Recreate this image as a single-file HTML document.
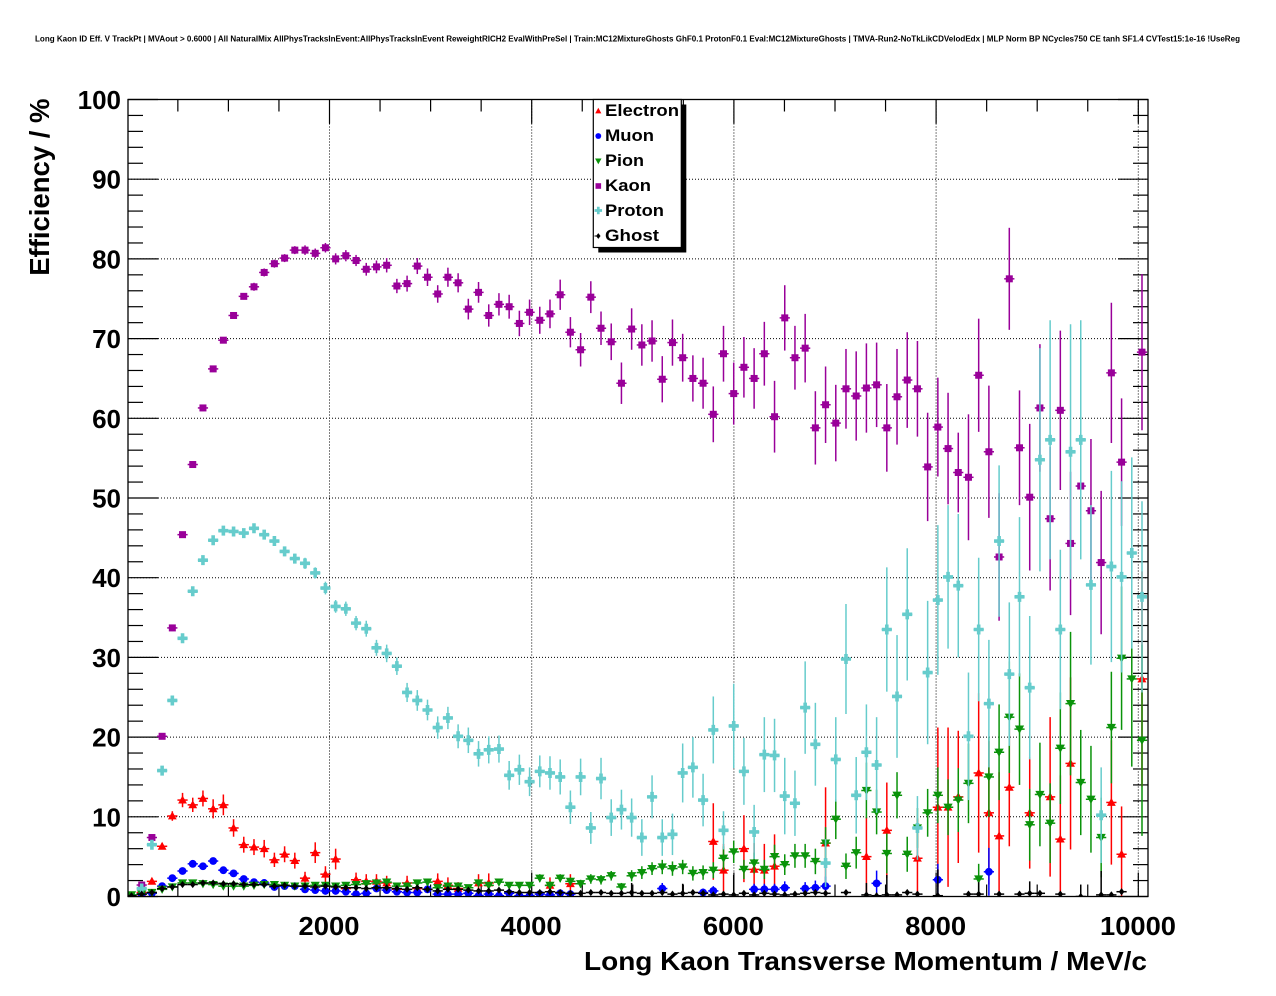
<!DOCTYPE html>
<html><head><meta charset="utf-8">
<style>
html,body{margin:0;padding:0;background:#fff;}
svg{display:block;}
text{font-family:"Liberation Sans",Arial,sans-serif;font-weight:bold;fill:#000;}
</style></head><body>
<svg id="s" width="1276" height="996" viewBox="0 0 1276 996" xmlns="http://www.w3.org/2000/svg">
<defs><clipPath id="c"><rect x="128" y="99.5" width="1020" height="797"/></clipPath></defs>
<rect width="1276" height="996" fill="#fff"/>
<text x="35" y="41.5" font-size="8" textLength="1205" lengthAdjust="spacingAndGlyphs">Long Kaon ID Eff. V TrackPt | MVAout &gt; 0.6000 | All NaturalMix AllPhysTracksInEvent:AllPhysTracksInEvent ReweightRICH2 EvalWithPreSel | Train:MC12MixtureGhosts GhF0.1 ProtonF0.1 Eval:MC12MixtureGhosts | TMVA-Run2-NoTkLikCDVelodEdx | MLP Norm BP NCycles750 CE tanh SF1.4 CVTest15:1e-16 !UseReg</text>
<g id="grid" stroke="#000" stroke-width="1" stroke-dasharray="1 2" fill="none"></g>
<g id="ticks" stroke="#000" stroke-width="1.2"></g>
<g id="data" clip-path="url(#c)"></g>
<rect x="128" y="99.5" width="1020" height="797" fill="none" stroke="#000" stroke-width="1.3"/>
<g font-size="26" text-anchor="end">
<text x="121" y="906">0</text>
<text x="121" y="826.3">10</text>
<text x="121" y="746.6">20</text>
<text x="121" y="666.9">30</text>
<text x="121" y="587.2">40</text>
<text x="121" y="507.5">50</text>
<text x="121" y="427.8">60</text>
<text x="121" y="348.1">70</text>
<text x="121" y="268.4">80</text>
<text x="121" y="188.7">90</text>
<text x="121" y="109">100</text>
</g>
<g font-size="26">
<text x="298.5" y="935" textLength="61" lengthAdjust="spacingAndGlyphs">2000</text>
<text x="500.7" y="935" textLength="61" lengthAdjust="spacingAndGlyphs">4000</text>
<text x="702.9" y="935" textLength="61" lengthAdjust="spacingAndGlyphs">6000</text>
<text x="905.1" y="935" textLength="61" lengthAdjust="spacingAndGlyphs">8000</text>
<text x="1100" y="935" textLength="76" lengthAdjust="spacingAndGlyphs">10000</text>
</g>
<text x="584" y="970" font-size="26" textLength="563" lengthAdjust="spacingAndGlyphs">Long Kaon Transverse Momentum / MeV/c</text>
<text transform="translate(49,98.5) rotate(-90)" font-size="27.5" text-anchor="end">Efficiency / %</text>
<g id="legend">
<rect x="598.3" y="104.5" width="88" height="148" fill="#000"/>
<rect x="593.3" y="99.5" width="88" height="148" fill="#fff" stroke="#000" stroke-width="1.2"/>
<g font-size="16.5">
<text x="605" y="116" textLength="74" lengthAdjust="spacingAndGlyphs">Electron</text>
<text x="605" y="141" textLength="49" lengthAdjust="spacingAndGlyphs">Muon</text>
<text x="605" y="166" textLength="39" lengthAdjust="spacingAndGlyphs">Pion</text>
<text x="605" y="191" textLength="46" lengthAdjust="spacingAndGlyphs">Kaon</text>
<text x="605" y="216" textLength="59" lengthAdjust="spacingAndGlyphs">Proton</text>
<text x="605" y="241" textLength="54" lengthAdjust="spacingAndGlyphs">Ghost</text>
</g>
<g id="legm"></g>
</g>
</svg>
<script>
(function(){
const NS='http://www.w3.org/2000/svg';
function el(p,t,a){const e=document.createElementNS(NS,t);for(const k in a)e.setAttribute(k,a[k]);p.appendChild(e);return e;}
const X=i=>131.5+10.207*i, Y=v=>896.5-7.97*v;
const XG=v=>329.5+(v-2000)*0.1011;
const grid=document.getElementById('grid');
for(let v=10;v<=90;v+=10) el(grid,'line',{x1:128,x2:1148,y1:Y(v),y2:Y(v)});
for(let v=2000;v<=10000;v+=2000) el(grid,'line',{x1:XG(v),x2:XG(v),y1:99.5,y2:896.5});
const tk=document.getElementById('ticks');
for(let v=0;v<=100;v+=2){const L=(v%10==0)?30:15;const y=Y(v);
 el(tk,'line',{x1:128,x2:128+L,y1:y,y2:y});el(tk,'line',{x1:1148-L,x2:1148,y1:y,y2:y});}
for(let v=500;v<=10000;v+=500){const L=(v%2000==0)?24:12;const x=XG(v);
 el(tk,'line',{x1:x,x2:x,y1:896.5,y2:896.5-L});el(tk,'line',{x1:x,x2:x,y1:99.5,y2:99.5+L});}

function marker(g,shape,x,y,c,s){
 s=s||1;
 if(shape=='sq'){const h=3.5*s;el(g,'rect',{x:x-h,y:y-h,width:2*h,height:2*h,fill:c});}
 else if(shape=='ci'){el(g,'circle',{cx:x,cy:y,r:3.9*s,fill:c});}
 else if(shape=='tu'){el(g,'polygon',{points:`${x},${y-4.6*s} ${x+4.4*s},${y+3.4*s} ${x-4.4*s},${y+3.4*s}`,fill:c});}
 else if(shape=='td'){el(g,'polygon',{points:`${x},${y+4.6*s} ${x+4.6*s},${y-3.6*s} ${x-4.6*s},${y-3.6*s}`,fill:c});}
 else if(shape=='cr'){const a=5*s,t=1.8*s;el(g,'polygon',{points:`${x-t},${y-a} ${x+t},${y-a} ${x+t},${y-t} ${x+a},${y-t} ${x+a},${y+t} ${x+t},${y+t} ${x+t},${y+a} ${x-t},${y+a} ${x-t},${y+t} ${x-a},${y+t} ${x-a},${y-t} ${x-t},${y-t}`,fill:c});}
 else if(shape=='di'){el(g,'polygon',{points:`${x},${y-3.6*s} ${x+2.8*s},${y} ${x},${y+3.6*s} ${x-2.8*s},${y}`,fill:c});}
}
const dg=document.getElementById('data');
function draw(data,c,shape){
 const g=el(dg,'g',{});
 for(const d of data){const i=d[0],v=d[1],e=d[2]||0.15;const x=X(i),y=Y(v);
  const lo=Math.max(0,v-e),hi=Math.min(101,v+e);
  el(g,'line',{x1:x,x2:x,y1:Y(lo),y2:Y(hi),stroke:c,'stroke-width':1.5});
  el(g,'line',{x1:x-5.1,x2:x+5.1,y1:y,y2:y,stroke:c,'stroke-width':1.5});
  marker(g,shape,x,y,c);}
}
const E=[[1,0.5,0.2],[2,1.9,0.3],[3,6.3,0.4],[4,10.1,0.6],[5,12.1,0.9],[6,11.5,0.9],[7,12.3,1.0],[8,11.0,1.2],[9,11.5,1.3],[10,8.6,1.1],[11,6.5,1.0],[12,6.2,1.0],[13,6.0,1.1],[14,4.6,0.9],[15,5.3,1.0],[16,4.5,1.0],[17,2.3,0.8],[18,5.5,1.3],[19,2.8,1.0],[20,4.7,1.3],[21,1.0,0.6],[22,2.1,0.9],[23,1.9,0.9],[24,1.9,0.9],[25,1.7,0.9],[26,0.9,0.7],[27,1.7,0.9],[28,1.0,0.7],[30,1.9,1.0],[31,1.4,1.0],[32,1.0,0.8],[34,1.7,1.1],[35,1.7,1.2],[41,1.4,1.0],[43,1.6,1.2],[57,6.9,4.8],[58,3.3,3.3],[60,6.0,4.2],[61,3.4,3.3],[62,3.3,3.3],[63,3.8,4.0],[68,6.7,7],[72,5.0,5.0],[74,8.3,6],[77,4.8,5],[79,11.2,10],[80,11.2,10],[81,12.5,8.3],[83,15.5,10],[84,10.5,9],[85,7.6,8],[86,13.7,7.4],[88,10.5,7],[90,12.5,10],[91,7.2,8],[92,16.7,10.8],[96,11.8,7.8],[97,5.3,6],[99,27.3,13.5]];
const M=[[0,0.1,0.05],[1,0.3,0.05],[2,0.4,0.1],[3,1.3,0.1],[4,2.3,0.15],[5,3.2,0.2],[6,4.1,0.2],[7,3.8,0.2],[8,4.45,0.25],[9,3.3,0.25],[10,2.9,0.25],[11,2.2,0.25],[12,1.8,0.25],[13,1.7,0.25],[14,1.2,0.25],[15,1.3,0.25],[16,1.3,0.25],[17,0.9,0.25],[18,0.8,0.25],[19,0.7,0.25],[20,0.7,0.25],[21,0.6,0.25],[22,0.3,0.2],[23,0.4,0.2],[24,1.0,0.3],[25,0.8,0.3],[26,0.6,0.3],[27,0.5,0.3],[28,0.5,0.3],[29,0.9,0.3],[30,0.3,0.2],[31,0.3,0.2],[32,0.3,0.2],[33,0.4,0.2],[34,0.1,0.1],[35,0.3,0.2],[36,0.1,0.1],[37,0.4,0.3],[38,0.1,0.1],[39,0.1,0.1],[40,0.3,0.2],[41,0.2,0.2],[42,0.4,0.3],[43,0.3,0.3],[52,1.0,0.7],[56,0.5,0.5],[57,0.7,0.6],[61,0.9,0.7],[62,0.9,0.7],[63,0.9,0.7],[64,1.1,0.8],[66,1.0,0.8],[67,1.1,0.9],[68,1.3,1.2],[73,1.65,1.6],[79,2.1,2.0],[84,3.1,3.0]];
const PI=[[0,0.2,0.1],[1,0.3,0.1],[2,0.5,0.1],[3,0.9,0.1],[4,1.2,0.1],[5,1.7,0.15],[6,1.7,0.15],[7,1.6,0.15],[8,1.5,0.15],[9,1.3,0.15],[10,1.3,0.15],[11,1.3,0.15],[12,1.4,0.2],[13,1.5,0.2],[14,1.5,0.2],[15,1.4,0.2],[16,1.3,0.2],[17,1.3,0.2],[18,1.4,0.2],[19,1.4,0.2],[20,1.3,0.2],[21,1.4,0.25],[22,1.5,0.25],[23,1.6,0.25],[24,1.7,0.3],[25,1.8,0.3],[26,1.3,0.3],[27,1.3,0.3],[28,1.7,0.3],[29,1.8,0.3],[30,1.1,0.3],[31,1.3,0.3],[32,1.3,0.3],[33,1.1,0.3],[34,1.7,0.4],[35,1.4,0.4],[36,1.8,0.4],[37,1.4,0.4],[38,1.4,0.4],[39,1.4,0.4],[40,2.3,0.5],[41,1.4,0.5],[42,2.3,0.5],[43,1.9,0.5],[44,1.6,0.5],[45,2.2,0.6],[46,2.1,0.6],[47,2.6,0.6],[48,1.2,0.5],[49,2.6,0.7],[50,3.0,0.8],[51,3.5,0.8],[52,3.7,0.9],[53,3.5,0.9],[54,3.7,0.9],[55,2.9,0.9],[56,3.0,0.9],[57,3.3,1.0],[58,4.8,1.5],[59,5.6,1.4],[60,3.4,1.2],[61,4.2,1.3],[62,3.4,1.2],[63,5.0,1.5],[64,4.0,1.3],[65,5.1,1.5],[66,5.1,1.5],[67,4.4,1.6],[68,6.7,2],[69,9.7,2.5],[70,3.8,1.6],[71,5.5,2],[72,13.3,3.5],[73,10.6,2.8],[74,5.4,2.5],[75,12.7,2.9],[76,5.3,2.2],[77,8.6,2.5],[78,10.5,3],[79,12.7,3.5],[80,11.2,3.5],[81,12.1,4],[82,14.2,5],[83,2.2,1.9],[84,15.0,5],[85,18.1,6],[86,22.5,7],[87,21.0,7],[88,9.0,4.5],[89,12.8,6.5],[90,9.2,5],[91,18.6,7],[92,24.2,9],[93,14.3,6.6],[94,12.2,6.7],[95,7.4,5],[96,21.2,7],[97,29.9,9],[98,27.3,11],[99,19.6,12]];
const K=[[1,1.44,0.2],[2,7.4,0.3],[3,20.1,0.4],[4,33.7,0.4],[5,45.4,0.4],[6,54.2,0.4],[7,61.3,0.4],[8,66.2,0.4],[9,69.8,0.4],[10,72.9,0.4],[11,75.3,0.4],[12,76.5,0.5],[13,78.3,0.5],[14,79.4,0.5],[15,80.1,0.5],[16,81.1,0.5],[17,81.1,0.6],[18,80.7,0.6],[19,81.4,0.6],[20,80.0,0.7],[21,80.4,0.7],[22,79.8,0.7],[23,78.7,0.8],[24,79.0,0.8],[25,79.2,0.9],[26,76.6,0.9],[27,76.9,1.0],[28,79.1,1.0],[29,77.7,1.1],[30,75.6,1.1],[31,77.7,1.2],[32,77.0,1.2],[33,73.7,1.3],[34,75.8,1.3],[35,72.9,1.4],[36,74.3,1.4],[37,74.0,1.5],[38,71.9,1.6],[39,73.3,1.6],[40,72.3,1.7],[41,73.1,1.8],[42,75.5,1.9],[43,70.8,1.9],[44,68.6,2.1],[45,75.2,2.0],[46,71.3,2.1],[47,69.6,2.3],[48,64.4,2.6],[49,71.2,2.6],[50,69.2,2.6],[51,69.7,2.6],[52,64.9,2.9],[53,69.5,2.9],[54,67.6,3.0],[55,65.0,2.9],[56,64.4,3.2],[57,60.5,3.5],[58,68.1,3.5],[59,63.1,3.9],[60,66.4,3.8],[61,65.0,3.8],[62,68.1,4.0],[63,60.2,4.5],[64,72.6,4.1],[65,67.6,4.0],[66,68.8,4.3],[67,58.8,4.6],[68,61.7,4.8],[69,59.4,4.8],[70,63.7,5.0],[71,62.8,5.6],[72,63.8,5.6],[73,64.2,5.3],[74,58.8,5.5],[75,62.7,6],[76,64.8,6],[77,63.7,6],[78,53.9,6.8],[79,58.9,6.2],[80,56.2,7],[81,53.2,5],[82,52.6,7.9],[83,65.4,7.1],[84,55.8,8.3],[85,42.6,8],[86,77.5,6.4],[87,56.3,7.2],[88,50.1,9.2],[89,61.3,8],[90,47.4,9],[91,61.0,10],[92,44.3,9],[93,51.5,9],[94,48.4,9],[95,41.9,9],[96,65.7,8.8],[97,54.5,8],[99,68.3,9.8]];
const P=[[1,1.0,0.3],[2,6.5,0.3],[3,15.8,0.3],[4,24.6,0.3],[5,32.4,0.4],[6,38.3,0.4],[7,42.2,0.4],[8,44.7,0.4],[9,45.9,0.4],[10,45.8,0.4],[11,45.6,0.4],[12,46.2,0.5],[13,45.4,0.5],[14,44.6,0.5],[15,43.3,0.6],[16,42.4,0.6],[17,41.8,0.7],[18,40.6,0.7],[19,38.7,0.8],[20,36.4,0.8],[21,36.1,0.9],[22,34.3,0.9],[23,33.6,1.0],[24,31.2,1.0],[25,30.5,1.1],[26,28.9,1.1],[27,25.6,1.2],[28,24.6,1.3],[29,23.4,1.3],[30,21.2,1.4],[31,22.4,1.4],[32,20.1,1.5],[33,19.6,1.6],[34,17.9,1.6],[35,18.4,1.7],[36,18.5,1.7],[37,15.2,1.8],[38,15.9,1.9],[39,14.4,1.8],[40,15.7,2.0],[41,15.5,2.1],[42,15.0,2.2],[43,11.2,2.1],[44,15.0,2.3],[45,8.6,2.0],[46,14.8,2.6],[47,9.9,2.3],[48,10.9,2.5],[49,9.9,2.4],[50,7.4,2.3],[51,12.5,2.7],[52,7.4,2.3],[53,7.8,2.6],[54,15.5,3.7],[55,16.2,3.8],[56,12.1,3.3],[57,20.9,4.2],[58,8.3,2.4],[59,21.4,5.3],[60,15.7,4.2],[61,8.1,3.4],[62,17.8,4.7],[63,17.7,4.6],[64,12.6,4.8],[65,11.7,4.1],[66,23.7,5.8],[67,19.1,5.2],[68,4.2,3],[69,17.2,5.3],[70,29.8,6.9],[71,12.7,4.8],[72,18.1,6],[73,16.5,6],[74,33.5,7.8],[75,25.1,7.7],[76,35.4,8.3],[77,8.6,4],[78,28.1,9],[79,37.2,9.4],[80,40.1,9],[81,39.0,9],[82,20.1,8],[83,33.5,9],[84,24.2,8],[85,44.6,9.5],[86,27.9,9],[87,37.6,10],[88,26.2,9],[89,54.8,14],[90,57.3,15],[91,33.5,10],[92,55.8,16],[93,57.3,15],[94,39.1,10],[95,10.2,6],[96,41.4,12],[97,40.1,12],[98,43.1,12],[99,37.6,12]];
const G=[[0,0.1],[1,0.3],[2,0.5],[3,1.0],[4,1.2],[5,1.5],[6,1.5],[7,1.7],[8,1.7],[9,1.6],[10,1.6],[11,1.5],[12,1.5],[13,1.5],[14,1.3],[15,1.4],[16,1.3],[17,1.3],[18,1.2],[19,1.3],[20,1.2],[21,1.1],[22,1.1],[23,1.0],[24,1.1],[25,1.1],[26,1.0],[27,0.9],[28,1.1],[29,0.9],[30,0.7],[31,0.9],[32,0.9],[33,0.8],[34,0.7],[35,0.7],[36,0.8],[37,0.6],[38,0.5],[39,0.5],[40,0.5],[41,0.6],[42,0.5],[43,0.4],[44,0.4],[45,0.5],[46,0.5],[47,0.4],[48,0.4],[49,0.5,1.2],[50,0.4],[51,0.4],[52,0.5],[53,0.3],[54,0.4,1.2],[55,0.5],[56,0.4],[57,0.2],[58,0.3],[59,0.2,2.5],[60,0.4],[61,0.2],[62,0.4],[63,0.3],[64,0.2],[65,0.3],[66,0.4],[67,0.5],[68,0.4],[70,0.5],[72,0.2,1.5],[73,0.1],[74,0.2,2.5],[75,0.2],[76,0.5],[77,0.3],[79,0.1,3.3],[82,0.3],[83,0.3,1.5],[85,0.3],[87,0.3],[88,0.4,1.5],[89,0.4],[91,0.3],[93,0.0,1.5],[95,0.2,3],[96,0.2],[97,0.6]];
draw(E,'#ff0000','tu');
draw(M,'#0000ff','ci');
draw(PI,'#0a930a','td');
draw(K,'#990099','sq');
draw(P,'#66cccc','cr');
draw(G,'#000000','di');
const lg=document.getElementById('legm');
marker(lg,'tu',598.3,111,'#ff0000',0.7);
marker(lg,'ci',598.3,136,'#0000ff',0.75);
marker(lg,'td',598.3,161,'#0a930a',0.7);
marker(lg,'sq',598.3,186,'#990099',0.8);
marker(lg,'cr',598.3,210.5,'#66cccc',0.75);
marker(lg,'di',598.3,236,'#000000',0.8);
el(lg,'line',{x1:594.5,x2:597,y1:236,y2:236,stroke:'#000','stroke-width':1});
})();
</script>
</body></html>
